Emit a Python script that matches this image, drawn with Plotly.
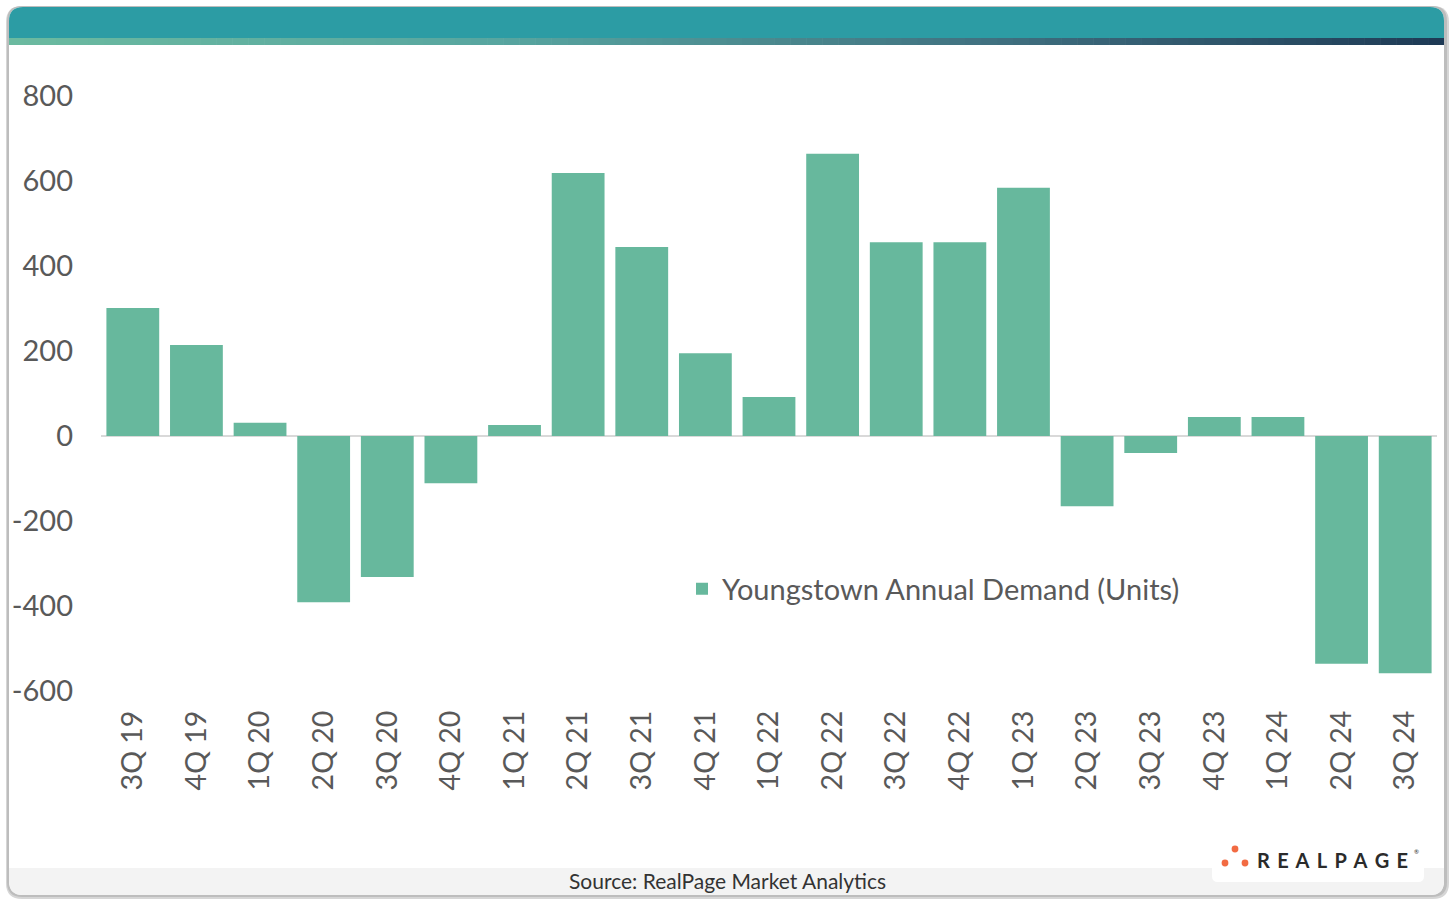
import plotly.graph_objects as go

W, H = 1455, 903

quarters = ["3Q 19", "4Q 19", "1Q 20", "2Q 20", "3Q 20", "4Q 20", "1Q 21", "2Q 21", "3Q 21",
            "4Q 21", "1Q 22", "2Q 22", "3Q 22", "4Q 22", "1Q 23", "2Q 23", "3Q 23", "4Q 23",
            "1Q 24", "2Q 24", "3Q 24"]
demand = [301, 214, 31, -391, -332, -111, 26, 619, 445, 195, 92, 664, 456, 456, 584, -165,
          -40, 45, 45, -536, -558]
y_ticks = [-600, -400, -200, 0, 200, 400, 600, 800]
series_name = "Youngstown Annual Demand (Units)"

BAR = "#67B89D"
TXT = "#595959"
FONT = "Lato"


def px(x):
    return x / W


def py(y):
    return 1 - y / H


def rrect(x0, y0, x1, y1, r, top=True, bottom=True):
    rt = r if top else 0
    rb = r if bottom else 0
    pts = []
    pts.append(f"M {px(x0 + rt)},{py(y0)}")
    pts.append(f"L {px(x1 - rt)},{py(y0)}")
    if rt:
        pts.append(f"Q {px(x1)},{py(y0)} {px(x1)},{py(y0 + rt)}")
    pts.append(f"L {px(x1)},{py(y1 - rb)}")
    if rb:
        pts.append(f"Q {px(x1)},{py(y1)} {px(x1 - rb)},{py(y1)}")
    pts.append(f"L {px(x0 + rb)},{py(y1)}")
    if rb:
        pts.append(f"Q {px(x0)},{py(y1)} {px(x0)},{py(y1 - rb)}")
    pts.append(f"L {px(x0)},{py(y0 + rt)}")
    if rt:
        pts.append(f"Q {px(x0)},{py(y0)} {px(x0 + rt)},{py(y0)}")
    pts.append("Z")
    return " ".join(pts)


shapes = []
# shadow
shapes.append(dict(type="path", xref="paper", yref="paper", layer="below",
                   path=rrect(6, 6, 1449, 899, 16), fillcolor="#D6D6D6", line=dict(width=0)))
shapes.append(dict(type="path", xref="paper", yref="paper", layer="below",
                   path=rrect(7, 6, 1447, 897, 15), fillcolor="#BDBDBD", line=dict(width=0)))
# card
shapes.append(dict(type="path", xref="paper", yref="paper", layer="below",
                   path=rrect(9, 7, 1444, 895, 14), fillcolor="white", line=dict(width=0)))
# footer gray band
shapes.append(dict(type="path", xref="paper", yref="paper", layer="below",
                   path=rrect(9, 868, 1444, 895, 14, top=False), fillcolor="#F3F3F3", line=dict(width=0)))
# header teal
shapes.append(dict(type="path", xref="paper", yref="paper", layer="below",
                   path=rrect(9, 7, 1444, 38, 14, bottom=False), fillcolor="#2C9CA4", line=dict(width=0)))
# gradient strip
stops = [(9, (108, 187, 160)), (500, (88, 166, 160)), (1000, (64, 112, 128)), (1444, (30, 58, 85))]
n = 90
for i in range(n):
    xa = 9 + (1444 - 9) * i / n
    xb = 9 + (1444 - 9) * (i + 1) / n + 0.6
    xm = (xa + xb) / 2
    for j in range(len(stops) - 1):
        if stops[j][0] <= xm <= stops[j + 1][0]:
            t = (xm - stops[j][0]) / (stops[j + 1][0] - stops[j][0])
            c = tuple(int(stops[j][1][k] + t * (stops[j + 1][1][k] - stops[j][1][k])) for k in range(3))
            break
    shapes.append(dict(type="rect", xref="paper", yref="paper", layer="below",
                       x0=px(xa), x1=px(min(xb, 1444)), y0=py(45), y1=py(38),
                       fillcolor=f"rgb{c}", line=dict(width=0)))
# logo white box
shapes.append(dict(type="path", xref="paper", yref="paper", layer="below",
                   path=rrect(1212, 840, 1424, 882, 6), fillcolor="white", line=dict(width=0)))
# logo dots
for cx, cy in [(1235, 849), (1225, 863), (1245, 863)]:
    shapes.append(dict(type="circle", xref="paper", yref="paper", layer="above",
                       x0=px(cx - 3.4), x1=px(cx + 3.4), y0=py(cy + 3.4), y1=py(cy - 3.4),
                       fillcolor="#F26B43", line=dict(width=0)))

fig = go.Figure()
fig.add_trace(go.Bar(x=quarters, y=demand, name=series_name, marker_color=BAR,
                     marker_line_width=0, showlegend=True))

fig.update_layout(
    width=W, height=H,
    margin=dict(l=0, r=0, t=0, b=0, autoexpand=False),
    paper_bgcolor="white",
    plot_bgcolor="rgba(0,0,0,0)",
    bargap=0.17,
    font=dict(family=FONT, color=TXT, size=29),
    shapes=shapes,
    showlegend=True,
    legend=dict(x=px(682), y=py(589), xanchor="left", yanchor="middle",
                bgcolor="rgba(0,0,0,0)", font=dict(family=FONT, size=29, color=TXT),
                itemsizing="constant"),
    xaxis=dict(domain=[px(101), px(1437)], tickangle=-90, showgrid=False, showline=False,
               automargin=False,
               ticks="", ticklabelstandoff=13, tickfont=dict(family=FONT, size=28.5, color=TXT)),
    yaxis=dict(domain=[py(691), py(96)], range=[-600, 800], tickvals=y_ticks,
               automargin=False,
               ticktext=[str(v) for v in y_ticks], showgrid=False, zeroline=True,
               zerolinecolor="#D9D9D9", zerolinewidth=2, showline=False, ticks="",
               ticklabelstandoff=27, tickfont=dict(family=FONT, size=29, color=TXT)),
    annotations=[
        dict(text="Source: RealPage Market Analytics", xref="paper", yref="paper",
             x=px(727), y=py(880), xanchor="center", yanchor="middle", showarrow=False,
             font=dict(family=FONT, size=21, color="#333333")),
        dict(text="R\u2009 E\u2009 A\u2009 L\u2009 P\u2009 A\u2009 G\u2009 E", xref="paper", yref="paper",
             x=px(1255), y=py(860), xanchor="left", yanchor="middle", showarrow=False,
             font=dict(family="Lato", size=20, color="#2B2B2B", weight="bold")),
        dict(text="®", xref="paper", yref="paper",
             x=px(1416), y=py(851), xanchor="center", yanchor="middle", showarrow=False,
             font=dict(family="Lato", size=6, color="#2B2B2B")),
    ],
)

fig.write_html("out.html", config={"displayModeBar": False},
               post_script="document.body.style.margin='0';document.body.style.overflow='hidden';")
